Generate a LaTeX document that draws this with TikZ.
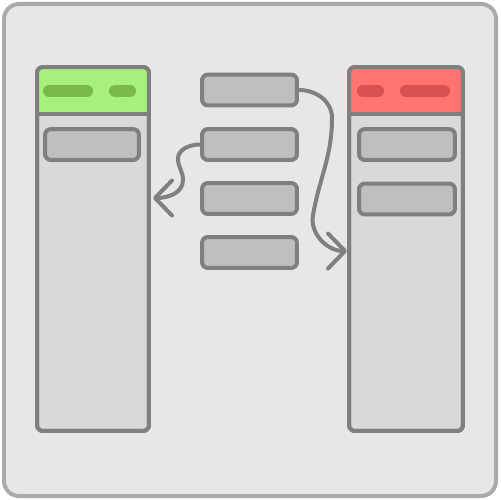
\documentclass[tikz,border=0pt]{standalone}
\usepackage{tikz}
\usetikzlibrary{arrows.meta}

\definecolor{boardbg}{HTML}{E8E7E5}
\definecolor{boardline}{HTML}{AAAAAA}
\definecolor{colbg}{HTML}{D9D9D9}
\definecolor{cardbg}{HTML}{BFBFBF}
\definecolor{edge}{HTML}{808080}
\definecolor{okhead}{HTML}{A8F07C}
\definecolor{okpill}{HTML}{7AB94C}
\definecolor{badhead}{HTML}{FF7373}
\definecolor{badpill}{HTML}{D95252}

\tikzset{
  column/.style={draw=edge, fill=colbg, line width=0.08cm, rounded corners=0.12cm,
    minimum width=2.24cm, minimum height=7.28cm, inner sep=0pt, outer sep=0pt},
  card/.style={draw=edge, fill=cardbg, line width=0.08cm, rounded corners=0.12cm,
    minimum width=1.9cm, minimum height=0.62cm, inner sep=0pt},
  pill/.style={line width=0.24cm, line cap=round},
  move/.style={draw=edge, line width=0.08cm, line cap=round,
    -{Straight Barb[length=0.34cm, width=0.7cm, line width=0.08cm, round]}}
}

\begin{document}
\begin{tikzpicture}[x=0.02cm, y=-0.02cm]
  \useasboundingbox (0,0) rectangle (500,500);
  % Board
  \draw[boardline, fill=boardbg, line width=0.08cm, rounded corners=0.3cm] (4,4) rectangle (496,496);

  % Columns
  \node[column] (todo) at (93,249) {};
  \node[column, minimum width=2.28cm] (done) at (406,249) {};

  % Headers
  \fill[okhead, rounded corners=0.12cm] (todo.north west) -- ++(0,47) -- ++(112,0) -- (todo.north east) -- cycle;
  \fill[badhead, rounded corners=0.12cm] (done.north west) -- ++(0,47) -- ++(114,0) -- (done.north east) -- cycle;
  \draw[edge, line width=0.08cm] (todo.north west) ++(0,47) -- ++(112,0);
  \draw[edge, line width=0.08cm] (done.north west) ++(0,47) -- ++(114,0);
  \draw[edge, line width=0.08cm, rounded corners=0.12cm] (todo.north west) rectangle (todo.south east);
  \draw[edge, line width=0.08cm, rounded corners=0.12cm] (done.north west) rectangle (done.south east);

  % Header labels
  \draw[pill, okpill] (49,91) -- (87,91);
  \draw[pill, okpill] (115,91) -- (130,91);
  \draw[pill, badpill] (363,91) -- (378,91);
  \draw[pill, badpill] (406,91) -- (444,91);

  % Cards in columns
  \node[card, minimum width=1.88cm] (todo1) at (92,144.5) {};
  \node[card, minimum width=1.92cm] (done1) at (407,144.5) {};
  \node[card, minimum width=1.92cm] (done2) at (407,199) {};

  % Loose cards
  \node[card] (mid1) at (249.5,90) {};
  \node[card] (mid2) at (249.5,144.5) {};
  \node[card] (mid3) at (249.5,198.5) {};
  \node[card] (mid4) at (249.5,252.5) {};

  % Moves
  \coordinate (intodo) at (153,198);
  \coordinate (indone) at (347,251);
  \draw[move] (mid2.west) to[out=180, in=95] (178,160) to[out=-85, in=90] (183,180) to[out=-90, in=0] (intodo);
  \draw[move] (mid1.east) to[out=0, in=90] (332,118) to[out=-90, in=80] (313,215) to[out=-100, in=180] (indone);
\end{tikzpicture}
\end{document}
